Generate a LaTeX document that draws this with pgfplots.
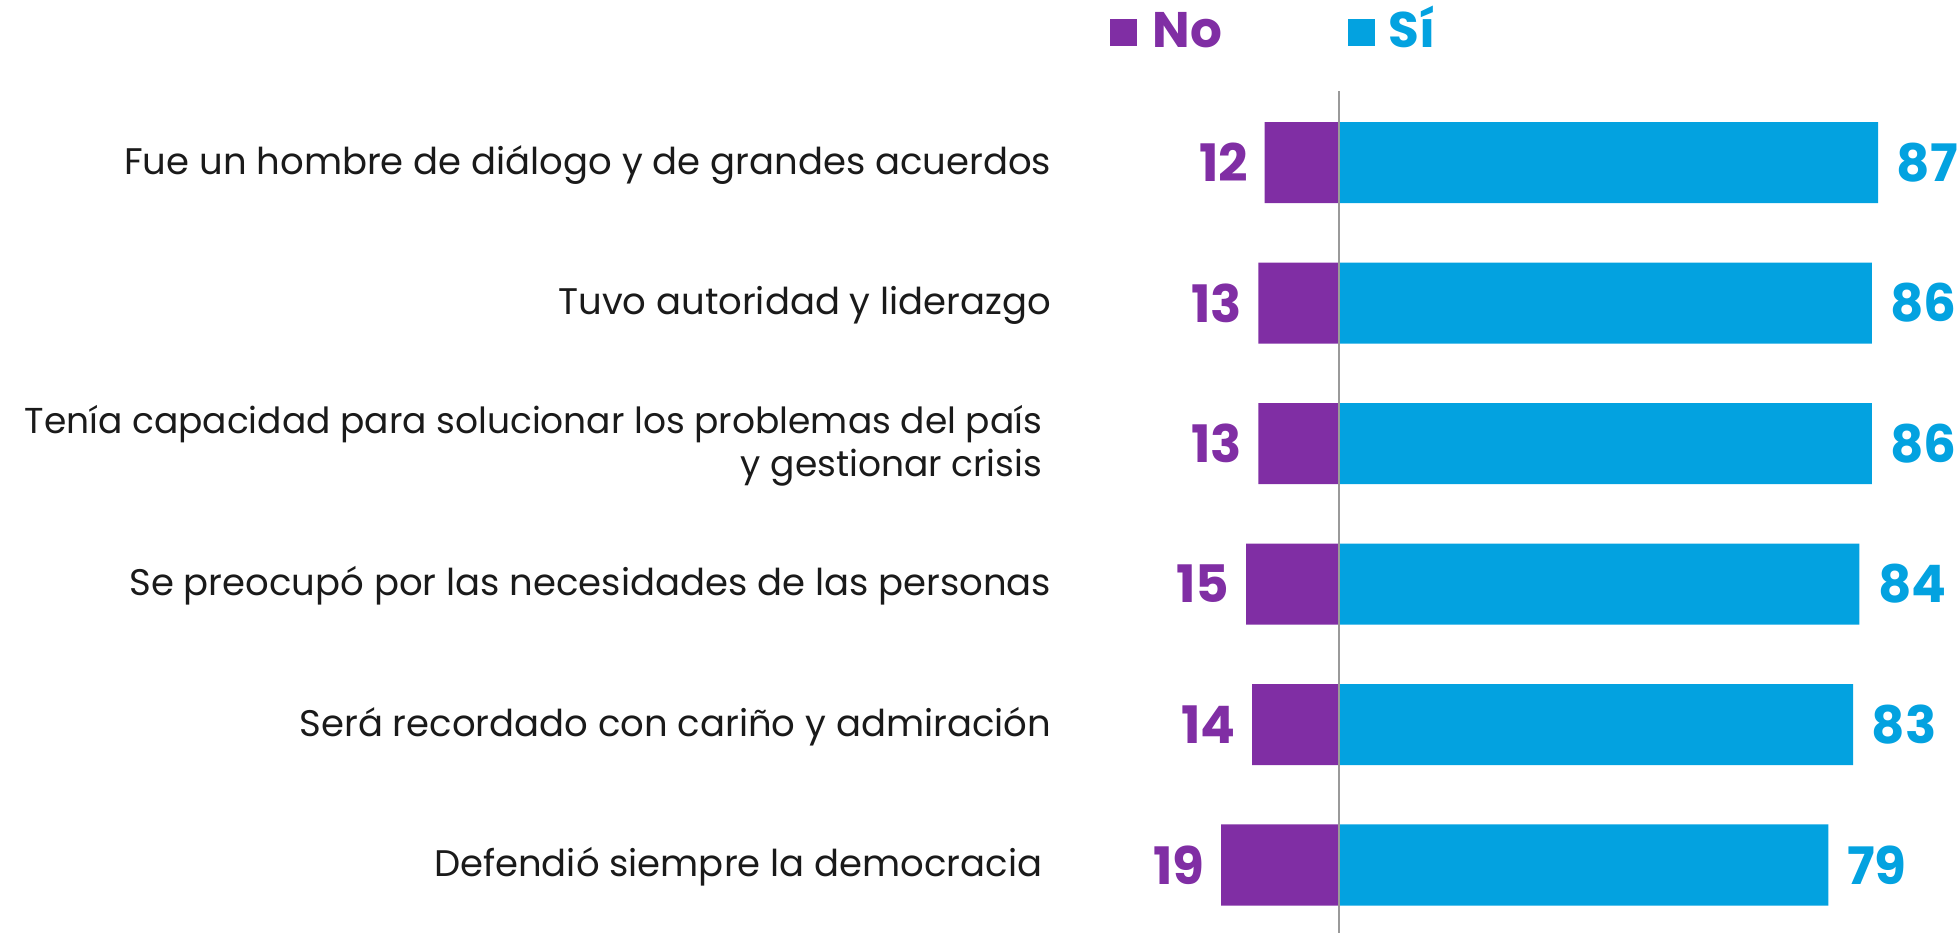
\documentclass[border=0pt]{standalone}
\usepackage{pgfplots}
\pgfplotsset{compat=1.18}
\usepackage{fontspec}
\setmainfont{Poppins}
\definecolor{nopurple}{HTML}{802EA4}
\definecolor{siblue}{HTML}{03A2E0}
\definecolor{txt}{HTML}{1A1A1A}
\definecolor{midline}{HTML}{9A9A9A}
\begin{document}
\begin{tikzpicture}
\begin{axis}[
  scale only axis, width=587.1pt, height=279.9pt,
  xmin=-216.1, xmax=99.75, ymin=-1.157, ymax=5.484, y dir=reverse,
  axis lines=none, clip=false,
  xbar, bar width=0.577, bar shift=0pt,
  /pgf/number format/assume math mode=true,
]
% No (plotted to the left)
\addplot[fill=nopurple, draw=none, point meta=explicit,
  nodes near coords,
  every node near coord/.append style={anchor=east, inner sep=0pt, xshift=-4.8pt,
    text=nopurple, font=\fontsize{15.5}{18}\selectfont\bfseries}]
  coordinates {(-12,0) [12] (-13,1) [13] (-13,2) [13] (-15,3) [15] (-14,4) [14] (-19,5) [19]};
% Sí
\addplot[fill=siblue, draw=none, point meta=explicit,
  nodes near coords,
  every node near coord/.append style={anchor=west, inner sep=0pt, xshift=5.4pt,
    text=siblue, font=\fontsize{15.5}{18}\selectfont\bfseries}]
  coordinates {(87,0) [87] (86,1) [86] (86,2) [86] (84,3) [84] (83,4) [83] (79,5) [79]};
% centre line
\addplot[midline, line width=0.45pt, sharp plot, forget plot] coordinates {(0,-0.509) (0,5.484)};

% category labels
\begin{scope}[every node/.style={anchor=base east, inner sep=0pt, text=txt, font=\fontsize{11.1}{12.9}\selectfont}]
\node at (axis cs:-46.33,0.082) {Fue un hombre de diálogo y de grandes acuerdos};
\node at (axis cs:-46.33,1.082) {Tuvo autoridad y liderazgo};
\node[font=\fontsize{10.8}{12.9}\selectfont] at (axis cs:-47.78,1.925) {Tenía capacidad para solucionar los problemas del país};
\node[font=\fontsize{10.8}{12.9}\selectfont] at (axis cs:-47.78,2.238) {y gestionar crisis};
\node at (axis cs:-46.33,3.082) {Se preocupó por las necesidades de las personas};
\node at (axis cs:-46.33,4.082) {Será recordado con cariño y admiración};
\node at (axis cs:-47.78,5.082) {Defendió siempre la democracia};
\end{scope}

% legend
\fill[nopurple] (axis cs:-36.97,-1.021) rectangle (axis cs:-32.6,-0.829);
\node[anchor=base west, inner sep=0pt, text=nopurple, font=\fontsize{15}{18}\selectfont\bfseries] at (axis cs:-30.2,-0.822) {No};
\fill[siblue] (axis cs:1.45,-1.021) rectangle (axis cs:5.81,-0.829);
\node[anchor=base west, inner sep=0pt, text=siblue, font=\fontsize{15}{18}\selectfont\bfseries] at (axis cs:7.9,-0.822) {Sí};
\end{axis}
\pgfresetboundingbox
\useasboundingbox (current axis.south west) rectangle (current axis.north east);
\end{tikzpicture}
\end{document}
